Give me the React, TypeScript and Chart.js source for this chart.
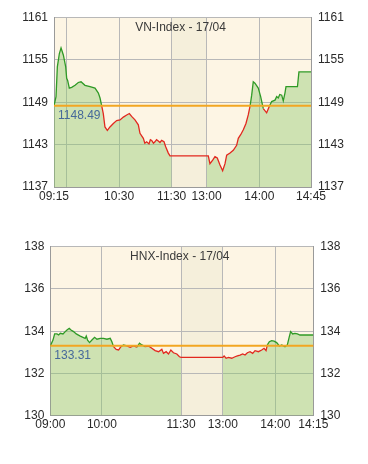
import React, { useEffect, useRef } from "react";
import { Chart, registerables } from "chart.js";

Chart.register(...registerables);

// ---- VN-Index, session of 17/04 ----
const vnTitle = "VN-Index - 17/04";
const vnReference = 1148.49;
// x positions on the session axis (lunch break compressed)
const vnSlots = [
  0, 2.3, 3.8, 6.1, 8, 10.6, 13.3, 14.4, 15.5, 17.4, 20.1, 23.9, 27.6, 30.7, 35.2, 40.9, 46.6,
  50.4, 52.3, 54.2, 56, 57.9, 60.6, 63.6, 67.4, 71.2, 75, 78.8, 82.6, 85.6, 88.2, 92, 95.8,
  97.7, 101.5, 103.2, 105.3, 107.9, 109.5, 111, 113, 114.7, 116.5, 118.5, 120.4, 122.3, 125,
  126.9, 129.9, 131.8, 133.7, 173.4, 175.3, 177.2, 180.3, 182.9, 185.5, 188.6, 191.6, 194.3,
  196.2, 200, 203.7, 207.5, 209.4, 212.1, 215.1, 218.1, 220.7, 222.7, 224.6, 226.4, 228.3,
  232.1, 234.8, 237.8, 241.6, 244.6, 247.3, 251.1, 253, 254.8, 256.5, 258.7, 260.5, 262.4,
  263.6, 276.6, 278.3, 292,
];
const vnValues = [
  1148.5, 1149.8, 1154.0, 1155.9, 1156.7, 1155.7, 1154.0, 1152.4, 1152.1, 1151.0, 1151.1,
  1151.4, 1151.8, 1151.9, 1151.4, 1151.2, 1151.0, 1150.3, 1149.6, 1148.5, 1147.4, 1145.5,
  1145.0, 1145.5, 1146.0, 1146.4, 1146.5, 1146.9, 1147.2, 1147.4, 1147.0, 1146.5, 1145.8,
  1144.6, 1143.9, 1143.2, 1143.4, 1143.1, 1143.7, 1143.6, 1143.2, 1143.4, 1143.7, 1143.5,
  1143.3, 1143.6, 1143.4, 1142.7, 1141.8, 1141.4, 1141.4, 1141.4, 1141.4, 1140.3, 1140.8,
  1141.3, 1141.1, 1140.1, 1139.3, 1140.3, 1141.5, 1141.8, 1142.2, 1142.9, 1143.9, 1144.4,
  1145.1, 1146.0, 1147.2, 1148.4, 1150.0, 1151.9, 1151.7, 1151.0, 1149.8, 1148.1, 1147.5,
  1148.4, 1149.1, 1149.3, 1149.8, 1149.6, 1150.1, 1150.0, 1149.2, 1150.3, 1151.2, 1151.2,
  1153.3, 1153.3,
];
const vnTickSlots = [0, 14.4, 73.9, 133.7, 173.4, 233.3, 292];
const vnTickLabels = ["09:15", "", "10:30", "11:30", "13:00", "14:00", "14:45"];
const vnLunch = [133.7, 173.4];
const vnAxis = [1137, 1161, 6];

// ---- HNX-Index, session of 17/04 ----
const hnxTitle = "HNX-Index - 17/04";
const hnxReference = 133.31;
const hnxSlots = [
  0, 3.1, 5.0, 7.7, 9.6, 11.5, 14.6, 17.2, 19.2, 21.8, 23.8, 26.8, 29.9, 34.5, 37.6, 40.2,
  41.4, 42.9, 45.2, 47.9, 51.0, 53.7, 57.5, 61.3, 65.2, 69.0, 70.9, 72.8, 75.9, 78.6, 81.3,
  84.3, 88.2, 92.0, 95.8, 99.7, 102.7, 105.4, 109.2, 113.1, 116.9, 120.7, 124.6, 128.4,
  130.3, 133.4, 136.1, 138.8, 141.8, 145.7, 148.7, 150.6, 198.6, 200.1, 202.4, 205.1, 208.9,
  212.7, 215.4, 218.5, 221.5, 224.2, 226.9, 230.0, 233.0, 235.7, 239.6, 243.4, 246.1, 248.4,
  249.9, 252.2, 254.9, 257.6, 260.6, 263.7, 266.4, 270.2, 272.9, 275.2, 276.7, 279.0, 281.7,
  284.4, 287.5, 302.8,
];
const hnxValues = [
  133.30, 133.58, 133.87, 133.87, 133.82, 133.90, 133.87, 133.98, 134.06, 134.14, 134.06,
  133.98, 133.87, 133.77, 133.71, 133.66, 133.77, 133.58, 133.46, 133.58, 133.71, 133.62,
  133.66, 133.66, 133.62, 133.66, 133.50, 133.27, 133.14, 133.11, 133.27, 133.35, 133.30,
  133.24, 133.30, 133.24, 133.43, 133.35, 133.27, 133.30, 133.19, 133.08, 133.03, 133.14,
  132.95, 133.03, 132.92, 133.11, 132.98, 132.92, 132.79, 132.76, 132.76, 132.83, 132.72,
  132.76, 132.72, 132.79, 132.83, 132.87, 132.92, 132.87, 132.98, 133.03, 132.95, 133.08,
  133.03, 133.11, 133.19, 133.08, 133.35, 133.50, 133.55, 133.53, 133.46, 133.30, 133.35,
  133.27, 133.35, 133.74, 133.98, 133.87, 133.90, 133.87, 133.82, 133.82,
];
const hnxTickSlots = [0, 59.4, 150.6, 198.6, 259.1, 302.8];
const hnxTickLabels = ["09:00", "10:00", "11:30", "13:00", "14:00", "14:15"];
const hnxLunch = [150.6, 198.6];
const hnxAxis = [130, 138, 2];

const FONT = "'Liberation Sans', Arial, Helvetica, sans-serif";
const UP = "#2f9a26";
const DOWN = "#e2281f";
const PANEL_BG = "#fdf5e4";
const LUNCH_BG = "#f5efdb";
const AREA = "rgba(140, 200, 110, 0.42)";
const GRID = "#b8b8b8";

const sessionPlugin = {
  id: "session",
  beforeDraw(chart: any, _args: any, opts: any) {
    const { ctx, chartArea, scales } = chart;
    const { left, top, right, bottom } = chartArea;
    ctx.save();
    ctx.fillStyle = PANEL_BG;
    ctx.fillRect(left, top, right - left, bottom - top);
    const x0 = scales.x.getPixelForValue(opts.lunch[0]);
    const x1 = scales.x.getPixelForValue(opts.lunch[1]);
    ctx.fillStyle = LUNCH_BG;
    ctx.fillRect(x0, top, x1 - x0, bottom - top);
    ctx.restore();
  },
  afterDatasetsDraw(chart: any, _args: any, opts: any) {
    const { ctx, chartArea, scales } = chart;
    const { left, right, top } = chartArea;
    const y = scales.y.getPixelForValue(opts.reference);
    ctx.save();
    ctx.strokeStyle = "#f2a622";
    ctx.lineWidth = 2;
    ctx.beginPath();
    ctx.moveTo(left, y);
    ctx.lineTo(right, y);
    ctx.stroke();
    ctx.font = `12px ${FONT}`;
    ctx.fillStyle = "#46699a";
    ctx.textAlign = "left";
    ctx.textBaseline = "middle";
    ctx.fillText(opts.reference.toFixed(2), left + 4, y + 10);
    ctx.fillStyle = "#3a3a3a";
    ctx.textAlign = "center";
    ctx.fillText(opts.title, (left + right) / 2 - 2, top + 10);
    ctx.restore();
  },
};

type PanelProps = {
  title: string;
  reference: number;
  slots: number[];
  values: number[];
  tickSlots: number[];
  tickLabels: string[];
  lunch: number[];
  axis: number[];
  top: number;
  height: number;
  padTop: number;
  leftWidth: number;
  rightWidth: number;
  bottomHeight: number;
};

function IndexPanel(p: PanelProps) {
  const ref = useRef<HTMLCanvasElement>(null);

  useEffect(() => {
    if (!ref.current) return;
    const line = p.slots.map((x, i) => ({ x, y: p.values[i] }));
    // the shaded area stops at the lunch break: a null point between the two sessions
    const area: { x: number; y: number | null }[] = [];
    p.slots.forEach((x, i) => {
      if (x > p.lunch[0] && x < p.lunch[1]) return;
      area.push({ x, y: p.values[i] });
      if (x === p.lunch[0]) area.push({ x: (p.lunch[0] + p.lunch[1]) / 2, y: null });
    });
    const tickFont = { family: FONT, size: 12 };
    const yTicks = {
      stepSize: p.axis[2],
      color: "#2a2a2a",
      font: tickFont,
      padding: 6,
      callback: (v: any) => String(v),
    };
    const chart = new Chart(ref.current, {
      type: "line",
      data: {
        datasets: [
          {
            data: line,
            borderWidth: 1.3,
            pointRadius: 0,
            fill: false,
            tension: 0,
            borderColor: UP,
            segment: {
              borderColor: (c: any) =>
                (c.p0.parsed.y + c.p1.parsed.y) / 2 >= p.reference ? UP : DOWN,
            },
          },
          {
            data: area as any,
            borderWidth: 0,
            pointRadius: 0,
            fill: "start",
            backgroundColor: AREA,
            spanGaps: false,
          },
        ],
      },
      options: {
        animation: false,
        responsive: false,
        devicePixelRatio: 1,
        layout: { padding: { top: p.padTop, left: 0, right: 0, bottom: 0 } },
        plugins: {
          legend: { display: false },
          tooltip: { enabled: false },
          session: { reference: p.reference, title: p.title, lunch: p.lunch },
        } as any,
        scales: {
          x: {
            type: "linear",
            min: 0,
            max: p.tickSlots[p.tickSlots.length - 1],
            afterBuildTicks: (s: any) => {
              s.ticks = p.tickSlots.map((v) => ({ value: v }));
            },
            afterFit: (s: any) => {
              s.height = p.bottomHeight;
            },
            ticks: {
              autoSkip: false,
              maxRotation: 0,
              padding: 2,
              color: "#2a2a2a",
              font: tickFont,
              callback: (_v: any, i: number) => p.tickLabels[i],
            },
            grid: { color: GRID, drawTicks: false },
            border: { color: "#9a9a9a" },
          },
          y: {
            position: "left",
            min: p.axis[0],
            max: p.axis[1],
            ticks: yTicks,
            afterFit: (s: any) => {
              s.width = p.leftWidth;
            },
            grid: { color: GRID, drawTicks: false },
            border: { color: "#9a9a9a" },
          },
          y2: {
            position: "right",
            min: p.axis[0],
            max: p.axis[1],
            ticks: { ...yTicks, padding: 7 },
            afterFit: (s: any) => {
              s.width = p.rightWidth;
            },
            grid: { drawOnChartArea: false, drawTicks: false },
            border: { color: "#9a9a9a" },
          },
        } as any,
      },
      plugins: [sessionPlugin as any],
    });
    return () => chart.destroy();
  }, []);

  return (
    <canvas
      ref={ref}
      width={368}
      height={p.height}
      style={{ position: "absolute", left: 0, top: p.top, width: 368, height: p.height }}
    />
  );
}

export default function App() {
  return (
    <div
      style={{
        position: "absolute",
        left: 0,
        top: 0,
        width: 368,
        height: 464,
        background: "#ffffff",
        overflow: "hidden",
      }}
    >
      <IndexPanel
        title={vnTitle}
        reference={vnReference}
        slots={vnSlots}
        values={vnValues}
        tickSlots={vnTickSlots}
        tickLabels={vnTickLabels}
        lunch={vnLunch}
        axis={vnAxis}
        top={0}
        height={215}
        padTop={17.5}
        leftWidth={54}
        rightWidth={57}
        bottomHeight={28}
      />
      <IndexPanel
        title={hnxTitle}
        reference={hnxReference}
        slots={hnxSlots}
        values={hnxValues}
        tickSlots={hnxTickSlots}
        tickLabels={hnxTickLabels}
        lunch={hnxLunch}
        axis={hnxAxis}
        top={230}
        height={215}
        padTop={16.7}
        leftWidth={50.3}
        rightWidth={54.7}
        bottomHeight={29.3}
      />
    </div>
  );
}
